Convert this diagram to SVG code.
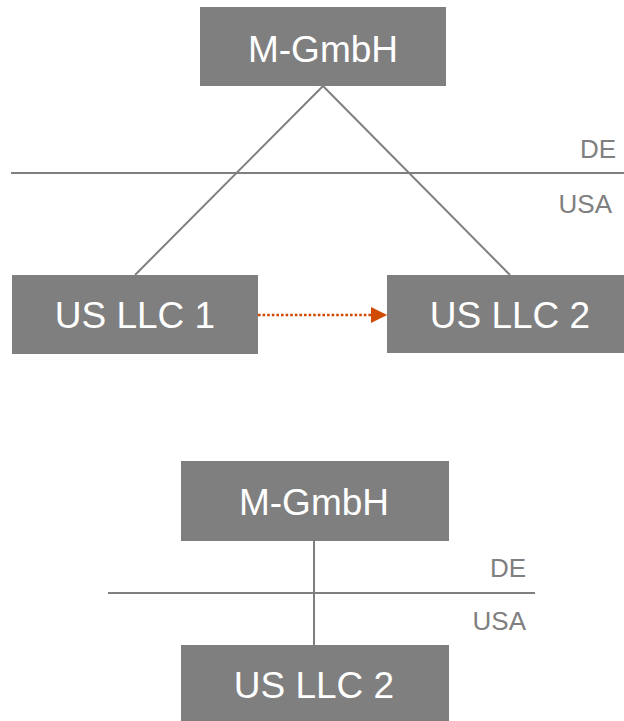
<svg xmlns="http://www.w3.org/2000/svg" width="624" height="721" viewBox="0 0 624 721">
  <style>
    .box { fill: #7f7f7f; }
    .bt { font-family: "Liberation Sans", Arial, sans-serif; font-size: 37px; fill: #ffffff; text-anchor: middle; }
    .lbl { font-family: "Liberation Sans", Arial, sans-serif; font-size: 26px; fill: #7f7f7f; text-anchor: end; }
    .ln { stroke: #7f7f7f; stroke-width: 2; fill: none; }
    .dot { stroke: #d04a02; stroke-width: 2.6; stroke-dasharray: 2.6 2; fill: none; }
  </style>
  <defs>
    <marker id="ah" markerWidth="16" markerHeight="16" refX="16" refY="8" orient="auto" markerUnits="userSpaceOnUse">
      <path d="M0,0 L16,8 L0,16 Z" fill="#d04a02"/>
    </marker>
  </defs>

  <g id="connectors">
    <line class="ln" x1="11" y1="173" x2="624" y2="173"/>
    <line class="ln" x1="323" y1="86" x2="135" y2="275"/>
    <line class="ln" x1="323" y1="86" x2="510" y2="275"/>
    <line class="dot" x1="258" y1="315" x2="387" y2="315" marker-end="url(#ah)"/>
    <line class="ln" x1="108" y1="593" x2="535" y2="593"/>
    <line class="ln" x1="314" y1="541" x2="314" y2="645"/>
  </g>

  <g id="labels-top">
    <text class="lbl" x="616" y="158">DE</text>
    <text class="lbl" x="612" y="213">USA</text>
  </g>
  <g id="labels-bottom">
    <text class="lbl" x="526" y="577">DE</text>
    <text class="lbl" x="526" y="630">USA</text>
  </g>

  <g id="m-gmbh-top">
    <rect class="box" x="200" y="7" width="246" height="79"/>
    <text class="bt" x="323" y="62">M-GmbH</text>
  </g>
  <g id="us-llc-1">
    <rect class="box" x="12" y="275" width="246" height="79"/>
    <text class="bt" x="135" y="328">US LLC 1</text>
  </g>
  <g id="us-llc-2-top">
    <rect class="box" x="387" y="275" width="246" height="78"/>
    <text class="bt" x="510" y="328">US LLC 2</text>
  </g>

  <g id="m-gmbh-bottom">
    <rect class="box" x="181" y="461" width="268" height="80"/>
    <text class="bt" x="314" y="515">M-GmbH</text>
  </g>
  <g id="us-llc-2-bottom">
    <rect class="box" x="181" y="645" width="268" height="76"/>
    <text class="bt" x="314" y="698">US LLC 2</text>
  </g>
</svg>
